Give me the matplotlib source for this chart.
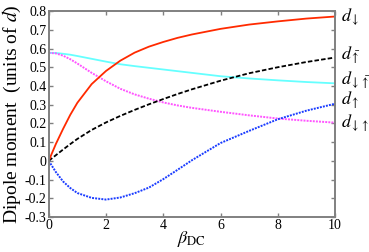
import numpy as np
import matplotlib
matplotlib.use("Agg")
import matplotlib.pyplot as plt

plt.rcParams["font.family"] = ["Liberation Serif", "DejaVu Serif"]
plt.rcParams["mathtext.fontset"] = "stix"
plt.rcParams["axes.unicode_minus"] = False

# ─────────────────────────────────────────────
# Data
# ─────────────────────────────────────────────

beta = [0, 0.25, 0.5, 0.75, 1, 1.5, 2, 2.5, 3, 3.5, 4, 4.5, 5, 6, 7, 8, 9, 10]

d_down = [0, 0.09, 0.17, 0.245, 0.31, 0.41, 0.48, 0.535, 0.578, 0.61, 0.635,
          0.657, 0.675, 0.705, 0.728, 0.745, 0.76, 0.771]
d_downbarup = [0.577, 0.576, 0.572, 0.567, 0.56, 0.545, 0.53, 0.516, 0.506, 0.497,
               0.488, 0.479, 0.47, 0.452, 0.44, 0.43, 0.421, 0.414]
d_downup = [0.577, 0.574, 0.562, 0.543, 0.52, 0.47, 0.425, 0.385, 0.355, 0.332,
            0.312, 0.296, 0.283, 0.262, 0.243, 0.226, 0.214, 0.204]
d_barup = [0, 0.03, 0.06, 0.089, 0.117, 0.165, 0.205, 0.24, 0.272, 0.302, 0.33,
           0.357, 0.382, 0.428, 0.468, 0.50, 0.528, 0.552]
d_up = [0, -0.06, -0.11, -0.145, -0.172, -0.198, -0.207, -0.196, -0.173, -0.143,
        -0.098, -0.048, 0.003, 0.095, 0.16, 0.222, 0.268, 0.305]

label_names = [r"$d_{\downarrow}$", r"$d_{\bar{\uparrow}}$", r"$d_{\downarrow\bar{\uparrow}}$",
               r"$d_{\uparrow}$", r"$d_{\downarrow\uparrow}$"]
label_y = [0.765, 0.565, 0.43, 0.325, 0.20]

xticks = [0, 2, 4, 6, 8, 10]
yticks = [-0.3, -0.2, -0.1, 0, 0.1, 0.2, 0.3, 0.4, 0.5, 0.6, 0.7, 0.8]
ytick_labels = ["-0.3", "-0.2", "-0.1", "0", "0.1", "0.2", "0.3", "0.4", "0.5", "0.6", "0.7", "0.8"]

# ─────────────────────────────────────────────
# Plot
# ─────────────────────────────────────────────

fig = plt.figure(figsize=(3.69, 2.52), dpi=100)
ax = fig.add_axes([0.132, 0.139, 0.776, 0.817])

ax.plot(beta, d_downbarup, color="#66ffff", lw=1.3, ls="-")
ax.plot(beta, d_downup, color="#ff55ff", lw=1.4, ls=(0, (1, 0.6)))
ax.plot(beta, d_up, color="#1a3cff", lw=1.4, ls=(0, (1, 0.6)))
ax.plot(beta, d_barup, color="black", lw=1.3, ls=(0, (2.5, 1.2)))
ax.plot(beta, d_down, color="#ff2a00", lw=1.3, ls="-")

ax.set_xlim(0, 10)
ax.set_ylim(-0.3, 0.8)
ax.set_xticks(xticks)
ax.set_yticks(yticks)
ax.set_yticklabels(ytick_labels)

for spine in ax.spines.values():
    spine.set_color("#808080")
    spine.set_linewidth(1.4)

ax.tick_params(direction="in", top=True, right=True, color="#808080",
               length=3, width=1, labelsize=10, pad=1.5)

for name, y in zip(label_names, label_y):
    ax.text(10.2, y, name, fontsize=13, ha="left", va="center", clip_on=False)

ax.set_ylabel(r"Dipole moment  (units of $d$)", fontsize=14, labelpad=1)
ax.set_xlabel(r"$\beta_{\mathrm{DC}}$", fontsize=13, labelpad=-2)

fig.savefig("out.png", dpi=100)
